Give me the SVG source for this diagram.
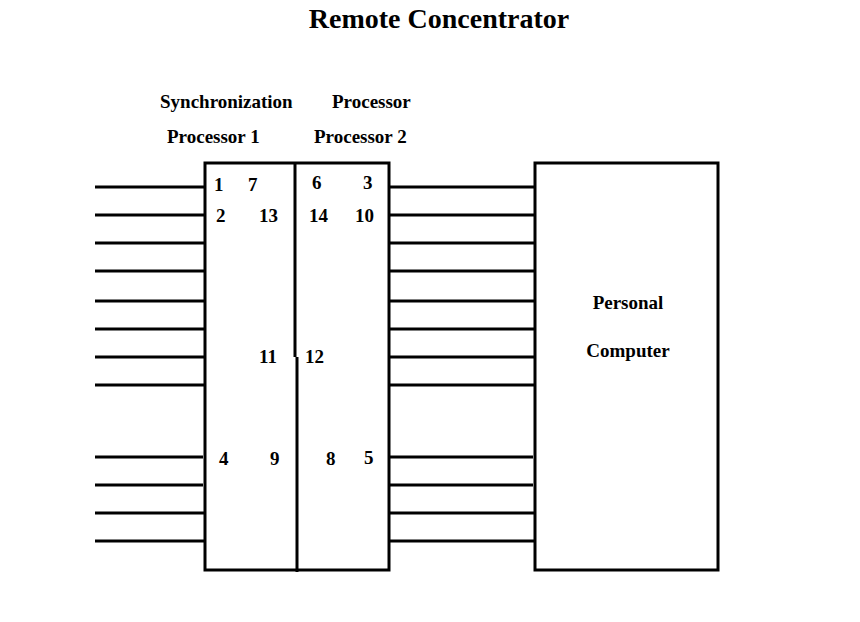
<svg xmlns="http://www.w3.org/2000/svg" width="860" height="622" viewBox="0 0 860 622">
<style>
.b{fill:none;stroke:#000;stroke-width:3}
text{font-family:"Liberation Serif",serif;font-weight:bold;fill:#000}
.t{font-size:19px}
.l{font-size:28px}
.n{font-size:19px}
</style>
<rect width="860" height="622" fill="#fff"/>
<text class="l" x="439" y="28" text-anchor="middle">Remote Concentrator</text>
<text class="t" x="160" y="108">Synchronization</text>
<text class="t" x="332" y="108">Processor</text>
<text class="t" x="167" y="143">Processor 1</text>
<text class="t" x="314" y="143">Processor 2</text>
<g id="sync">
<rect class="b" x="205" y="163" width="184" height="407"/>
<path class="b" d="M295 163V357M297 357V572"/>
</g>
<g id="pc">
<rect class="b" x="535" y="163" width="183" height="407"/>
<text class="t" x="628" y="309" text-anchor="middle">Personal</text>
<text class="t" x="628" y="357" text-anchor="middle">Computer</text>
</g>
<g id="labels" class="n">
<text x="214" y="191">1</text><text x="248" y="191">7</text>
<text x="312" y="189">6</text><text x="363" y="189">3</text>
<text x="216" y="222">2</text><text x="259" y="222">13</text>
<text x="309" y="222">14</text><text x="355" y="222">10</text>
<text x="259" y="363">11</text><text x="305" y="363">12</text>
<text x="219" y="465">4</text><text x="270" y="465">9</text>
<text x="326" y="465">8</text><text x="364" y="464">5</text>
</g>
<g id="connectors" class="b">
<path d="M95 187H205M95 215H205M95 243H205M95 271H205M95 301H205M95 329H205M95 357H205M95 385H205M95 457H203M95 485H203M95 513H205M95 541H205"/>
<path d="M389 187H535M389 215H535M389 243H535M389 271H535M389 301H535M389 329H535M389 357H535M389 385H535M389 457H533M389 485H533M389 513H535M389 541H535"/>
</g>
</svg>
